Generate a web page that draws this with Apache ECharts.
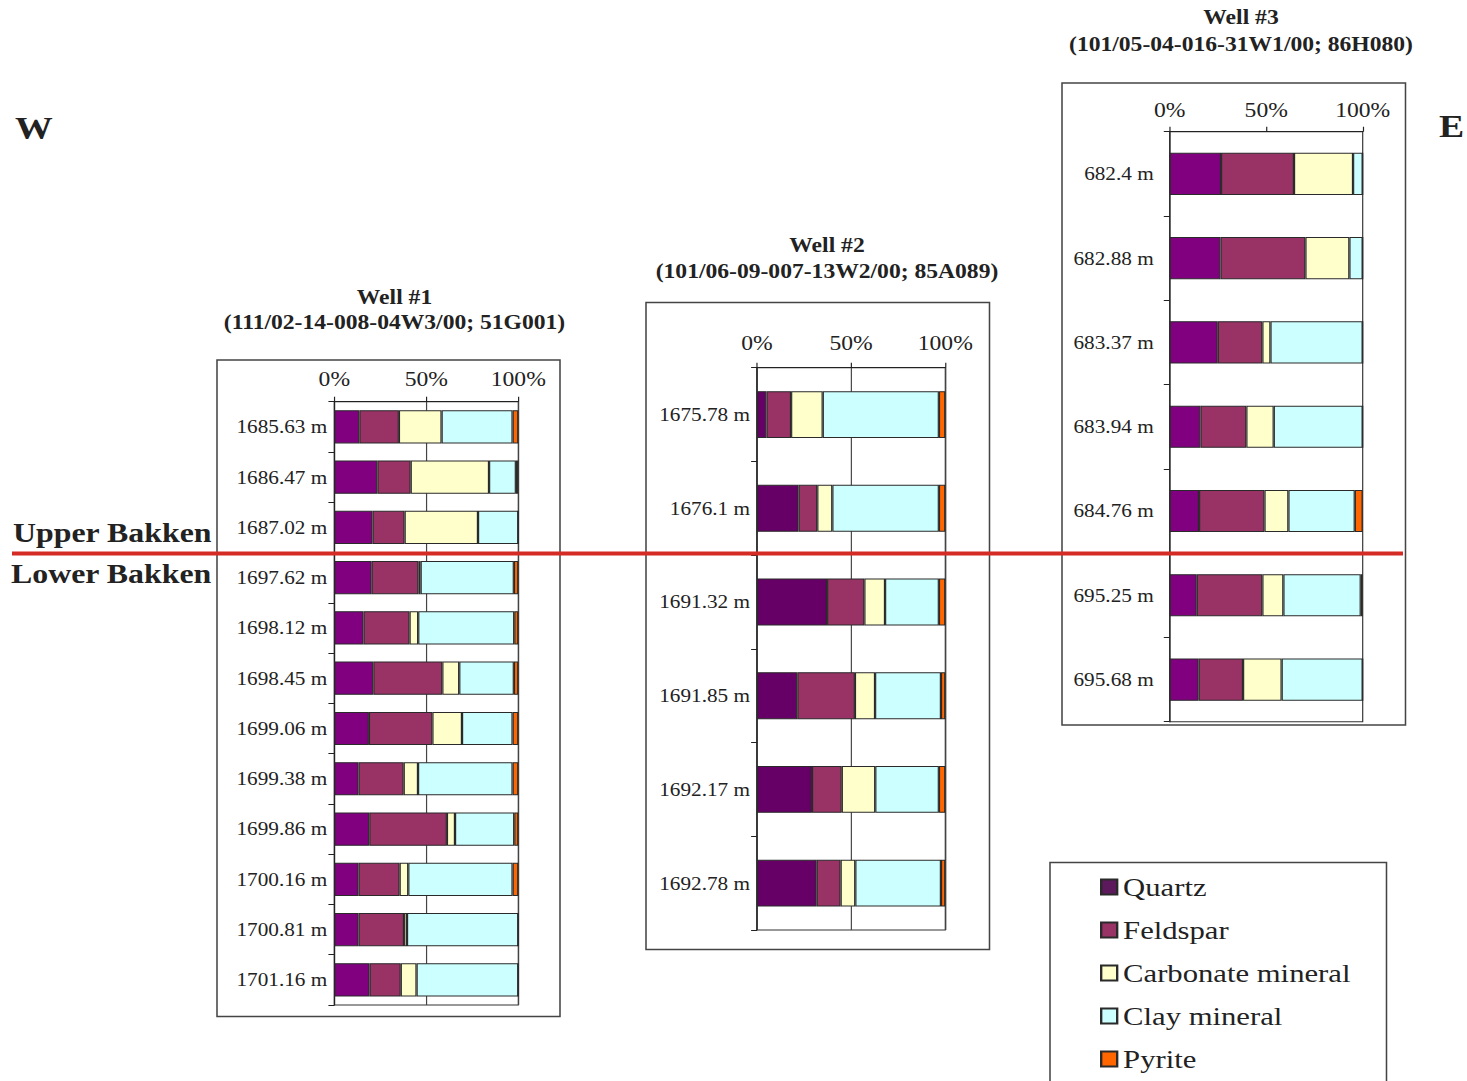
<!DOCTYPE html>
<html>
<head>
<meta charset="utf-8">
<title>Bakken mineral composition, W–E section</title>
<script src="https://cdn.jsdelivr.net/npm/echarts@6/dist/echarts.min.js"></script>
<style>
  html, body { margin: 0; padding: 0; background: #fff; overflow: hidden; }
  /* layout is authored in a narrower frame and widened horizontally */
  #chart { position: absolute; left: 0; top: 0; width: 1243.2px; height: 1081px;
           transform: scaleX(1.18); transform-origin: 0 0; }
</style>
</head>
<body>
<div id="chart"></div>
<script>
// ---- mineral classes -------------------------------------------------------
const minerals = ['Quartz', 'Feldspar', 'Carbonate mineral', 'Clay mineral', 'Pyrite'];
const percentTicks = [0, 50, 100];

// ---- Well #1 (111/02-14-008-04W3/00; 51G001), wt % -------------------------
const well1Depths    = ['1685.63 m', '1686.47 m', '1687.02 m', '1697.62 m', '1698.12 m', '1698.45 m',
                        '1699.06 m', '1699.38 m', '1699.86 m', '1700.16 m', '1700.81 m', '1701.16 m'];
const well1Quartz    = [13.6, 23.4, 20.8, 20.3, 15.9, 21.2, 18.8, 13.2, 19.0, 13.2, 13.2, 19.2];
const well1Feldspar  = [21.5, 18.1, 17.4, 25.4, 25.0, 37.5, 34.5, 24.5, 42.2, 22.3, 24.7, 16.9];
const well1Carbonate = [23.2, 42.6, 39.9, 1.2, 4.7, 9.2, 16.1, 7.8, 4.4, 4.7, 1.6, 8.6];
const well1Clay      = [38.6, 14.6, 21.9, 50.7, 52.2, 29.7, 27.5, 51.4, 32.2, 56.7, 60.5, 55.3];
const well1Pyrite    = [3.1, 1.3, 0, 2.4, 2.2, 2.4, 3.1, 3.1, 2.2, 3.1, 0, 0];

// ---- Well #2 (101/06-09-007-13W2/00; 85A089), wt % -------------------------
const well2Depths    = ['1675.78 m', '1676.1 m', '1691.32 m', '1691.85 m', '1692.17 m', '1692.78 m'];
const well2Quartz    = [5.0, 22.1, 37.2, 21.4, 29.2, 31.7];
const well2Feldspar  = [13.1, 9.9, 19.8, 30.6, 15.8, 12.7];
const well2Carbonate = [16.8, 8.0, 11.0, 10.7, 17.8, 7.8];
const well2Clay      = [61.7, 56.6, 28.6, 35.0, 33.8, 45.5];
const well2Pyrite    = [3.4, 3.4, 3.4, 2.3, 3.4, 2.3];

// ---- Well #3 (101/05-04-016-31W1/00; 86H080), wt % -------------------------
const well3Depths    = ['682.4 m', '682.88 m', '683.37 m', '683.94 m', '684.76 m', '695.25 m', '695.68 m'];
const well3Quartz    = [26.6, 26.3, 24.9, 15.9, 15.2, 14.0, 15.0];
const well3Feldspar  = [37.8, 44.0, 23.1, 23.8, 33.9, 34.0, 23.0];
const well3Carbonate = [30.6, 22.8, 4.2, 14.2, 12.4, 10.9, 20.0];
const well3Clay      = [5.0, 6.9, 47.8, 46.1, 34.4, 40.1, 42.0];
const well3Pyrite    = [0, 0, 0, 0, 4.1, 1.0, 0];

// ---- styling ---------------------------------------------------------------
const SX = 1.18;                       // horizontal widening applied by CSS
const ux = x => x / SX;                // page x -> authoring x
const SERIF = "'Liberation Serif', 'Times New Roman', serif";
const INK = '#222';

const mineralColors = {
  'Quartz': '#800080',
  'Feldspar': '#993366',
  'Carbonate mineral': '#FFFFCC',
  'Clay mineral': '#CCFFFF',
  'Pyrite': '#FF6600'
};

const wells = [
  {
    depths: well1Depths,
    values: [well1Quartz, well1Feldspar, well1Carbonate, well1Clay, well1Pyrite],
    grid: { left: ux(334.3), top: 401.7, width: ux(184), height: 603.3 },
    gap: '34%', midLine: true, labelMargin: ux(7), topMargin: 12, quartz: '#800080'
  },
  {
    depths: well2Depths,
    values: [well2Quartz, well2Feldspar, well2Carbonate, well2Clay, well2Pyrite],
    grid: { left: ux(757), top: 367.7, width: ux(188.3), height: 562.3 },
    gap: '50%', midLine: true, labelMargin: ux(7), topMargin: 14, quartz: '#660066'
  },
  {
    depths: well3Depths,
    values: [well3Quartz, well3Feldspar, well3Carbonate, well3Clay, well3Pyrite],
    grid: { left: ux(1169.7), top: 131.7, width: ux(193), height: 590 },
    gap: '50%', midLine: false, labelMargin: ux(16), topMargin: 11, quartz: '#800080'
  }
];

const grids = [], xAxes = [], yAxes = [], series = [];

wells.forEach((w, i) => {
  grids.push(Object.assign({
    show: true, borderColor: '#333', borderWidth: 1, backgroundColor: '#fff'
  }, w.grid));

  xAxes.push({
    type: 'value', gridIndex: i, position: 'top',
    min: percentTicks[0], max: percentTicks[percentTicks.length - 1], interval: 50,
    axisLine: { show: true, lineStyle: { color: '#222', width: 1 } },
    axisTick: { show: true, length: 5, lineStyle: { color: '#222' } },
    axisLabel: { formatter: '{value}%', fontFamily: SERIF, fontSize: 20, color: INK, margin: w.topMargin },
    splitLine: { show: w.midLine, lineStyle: { color: '#444', width: 1 } }
  });

  yAxes.push({
    type: 'category', gridIndex: i, inverse: true, data: w.depths,
    axisLine: { show: true, lineStyle: { color: '#222', width: 1 } },
    axisTick: { show: true, length: 5, lineStyle: { color: '#222' } },
    axisLabel: { fontFamily: SERIF, fontSize: 18, color: INK, margin: w.labelMargin },
    splitLine: { show: false }
  });

  minerals.forEach((m, k) => {
    series.push({
      type: 'bar', name: m, stack: 'well' + i,
      xAxisIndex: i, yAxisIndex: i,
      barCategoryGap: w.gap,
      data: w.values[k],
      itemStyle: {
        color: k === 0 ? w.quartz : mineralColors[m],
        borderColor: '#2a2a2a', borderWidth: 1
      },
      emphasis: { disabled: true },
      silent: true
    });
  });
});

// ---- annotations -------------------------------------------------------------
function txt(x, y, text, size, weight, align) {
  return {
    type: 'text', x: ux(x), y: y, z: 50,
    style: {
      text: text, fill: INK, fontFamily: SERIF, fontSize: size,
      fontWeight: weight || 'normal',
      textAlign: align || 'center', textVerticalAlign: 'middle'
    }
  };
}
function box(x1, y1, x2, y2) {
  return {
    type: 'rect', z: 1,
    shape: { x: ux(x1), y: y1, width: ux(x2 - x1), height: y2 - y1 },
    style: { fill: 'none', stroke: '#444', lineWidth: 1.3 }
  };
}

const graphics = [
  box(217, 360, 560, 1016.5),
  box(646, 302.5, 989.5, 949.5),
  box(1062, 83, 1405.5, 725),
  box(1050, 862.5, 1386.5, 1100),

  txt(394.5, 297.5, 'Well #1', 20, 'bold'),
  txt(394.5, 322.5, '(111/02-14-008-04W3/00; 51G001)', 20, 'bold'),
  txt(827, 246, 'Well #2', 20, 'bold'),
  txt(827, 272, '(101/06-09-007-13W2/00; 85A089)', 20, 'bold'),
  txt(1241, 18, 'Well #3', 20, 'bold'),
  txt(1241, 45, '(101/05-04-016-31W1/00; 86H080)', 20, 'bold'),

  txt(15, 128, 'W', 32, 'bold', 'left'),
  txt(1439, 126, 'E', 32, 'bold', 'left'),

  txt(13, 532.5, 'Upper Bakken', 27, 'bold', 'left'),
  txt(11, 574, 'Lower Bakken', 27, 'bold', 'left'),

  {
    type: 'line', z: 100,
    shape: { x1: ux(12), y1: 553.5, x2: ux(1403), y2: 553.5 },
    style: { stroke: '#d42b24', lineWidth: 4 }
  }
];

const chart = echarts.init(document.getElementById('chart'), null, { renderer: 'svg' });
chart.setOption({
  backgroundColor: '#fff',
  animation: false,
  grid: grids,
  xAxis: xAxes,
  yAxis: yAxes,
  series: series,
  legend: {
    orient: 'vertical', left: ux(1100), top: 873, padding: 0,
    itemWidth: ux(16), itemHeight: 15, itemGap: 15,
    icon: 'rect', selectedMode: false,
    textStyle: { fontFamily: SERIF, fontSize: 26, color: INK, lineHeight: 28 },
    data: [
      { name: 'Quartz', itemStyle: { color: '#5c1a5c' } },
      { name: 'Feldspar' },
      { name: 'Carbonate mineral' },
      { name: 'Clay mineral' },
      { name: 'Pyrite' }
    ]
  },
  graphic: graphics
});
</script>
</body>
</html>
